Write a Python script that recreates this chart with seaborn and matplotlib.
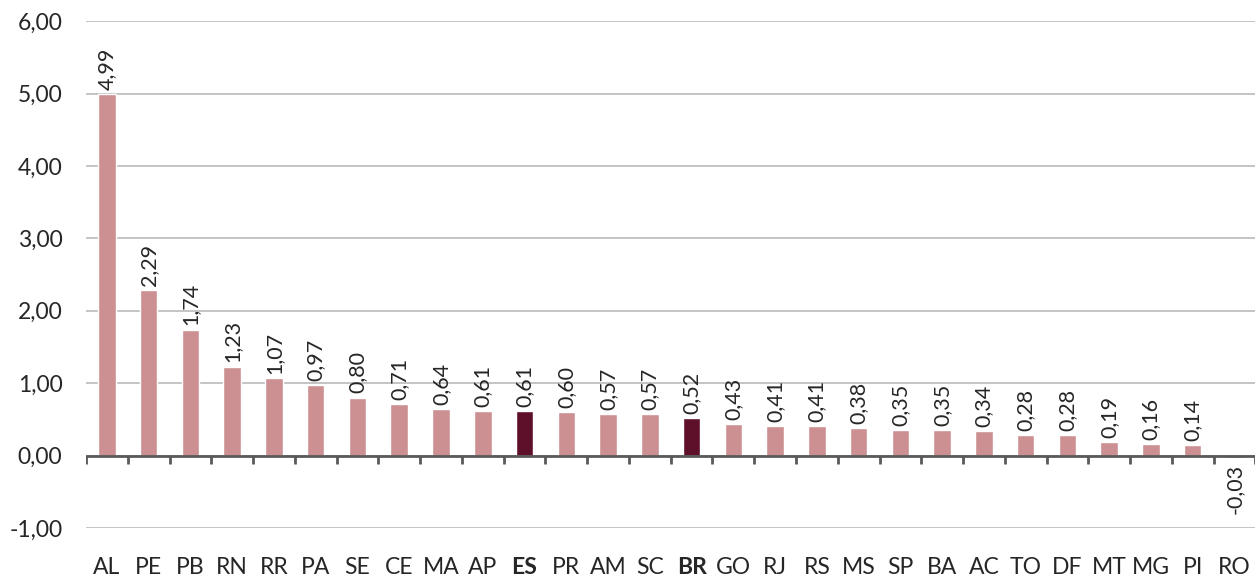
import numpy as np
import pandas as pd
import matplotlib
matplotlib.use("Agg")
import matplotlib.pyplot as plt
import seaborn as sns

# data
states = ["AL", "PE", "PB", "RN", "RR", "PA", "SE", "CE", "MA", "AP", "ES", "PR", "AM", "SC",
          "BR", "GO", "RJ", "RS", "MS", "SP", "BA", "AC", "TO", "DF", "MT", "MG", "PI", "RO"]
values = [4.99, 2.29, 1.74, 1.23, 1.07, 0.97, 0.80, 0.71, 0.64, 0.61, 0.61, 0.60, 0.57, 0.57,
          0.52, 0.43, 0.41, 0.41, 0.38, 0.35, 0.35, 0.34, 0.28, 0.28, 0.19, 0.16, 0.14, -0.03]
highlight = ["ES", "BR"]
y_ticks = [-1, 0, 1, 2, 3, 4, 5, 6]

LIGHT = "#cd9092"
DARK = "#5e0f2a"

sns.set_style("white")
plt.rcParams["font.family"] = ["Lato", "DejaVu Sans"]

df = pd.DataFrame({"uf": states, "val": values})
palette = {s: (DARK if s in highlight else LIGHT) for s in states}

fig = plt.figure(figsize=(12.56, 5.78), dpi=100)
ax = fig.add_axes([0.0685, 0.0865, 0.931, 0.877])

sns.barplot(data=df, x="uf", y="val", hue="uf", palette=palette, legend=False,
            width=0.42, saturation=1, ax=ax)

ax.set_ylim(-1, 6)
ax.set_xlim(-0.5, len(states) - 0.5)
ax.set_yticks(y_ticks)
ax.set_yticklabels([f"{v:.2f}".replace(".", ",") for v in y_ticks], fontsize=16.5)
ax.yaxis.grid(True, color="#bfbfbf", linewidth=1.3)
ax.set_axisbelow(True)
for s in ax.spines.values():
    s.set_visible(False)
ax.tick_params(axis="both", length=0)
ax.tick_params(axis="y", pad=17)
ax.tick_params(axis="x", pad=21)
ax.set_xlabel("")
ax.set_ylabel("")
ax.set_xticks(range(len(states)))
ax.set_xticklabels(states, fontsize=16.5)
for lbl in ax.get_xticklabels():
    if lbl.get_text() in highlight:
        lbl.set_fontweight("bold")

# zero axis with category tick marks
ax.axhline(0, color="#595959", linewidth=2, zorder=3)
ax.vlines(np.arange(len(states) + 1) - 0.5, -0.11, 0, color="#595959", linewidth=2, zorder=3)

for i, v in enumerate(values):
    txt = f"{v:.2f}".replace(".", ",")
    if v >= 0:
        ax.annotate(txt, (i, v), xytext=(0, 3), textcoords="offset points",
                    rotation=90, ha="center", va="bottom", fontsize=15.5)
    else:
        ax.annotate(txt, (i, 0), xytext=(0, -6), textcoords="offset points",
                    rotation=90, ha="center", va="top", fontsize=15.5)

fig.savefig("out.png", dpi=100)
